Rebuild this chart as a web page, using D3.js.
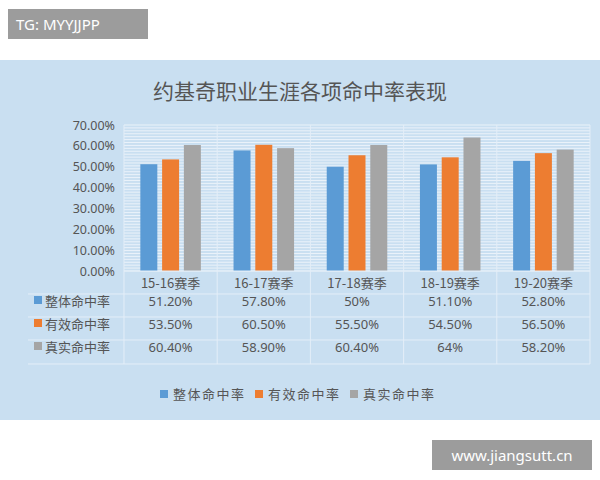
<!DOCTYPE html>
<html><head><meta charset="utf-8">
<script src="https://cdn.jsdelivr.net/npm/d3@7"></script>
<style>body{margin:0;background:#fff}svg{display:block;font-family:"Noto Sans CJK SC",sans-serif}</style>
</head><body><svg width="600" height="480"></svg>
<script>
const seasons = ["15-16赛季", "16-17赛季", "17-18赛季", "18-19赛季", "19-20赛季"];
const seriesNames = ["整体命中率", "有效命中率", "真实命中率"];
const overall = [51.2, 57.8, 50, 51.1, 52.8];
const effective = [53.5, 60.5, 55.5, 54.5, 56.5];
const trueShoot = [60.4, 58.9, 60.4, 64, 58.2];
const labels = [
  ["51.20%", "57.80%", "50%", "51.10%", "52.80%"],
  ["53.50%", "60.50%", "55.50%", "54.50%", "56.50%"],
  ["60.40%", "58.90%", "60.40%", "64%", "58.20%"]
];
const colors = ["#5b9bd5", "#ed7d31", "#a5a5a5"];
const series = [overall, effective, trueShoot];

const svg = d3.select("svg");
// chart background
svg.append("rect").attr("x", 0).attr("y", 60).attr("width", 600).attr("height", 360).attr("fill", "#c9dff1");

svg.append("text").attr("x", 300).attr("y", 99).attr("text-anchor", "middle")
  .attr("font-size", 21).attr("fill", "#555").text("约基奇职业生涯各项命中率表现");

const x = d3.scaleBand().domain(seasons).range([124, 590]);
const y = d3.scaleLinear().domain([0, 70]).range([271, 125]);
const xs = d3.scaleBand().domain(d3.range(3)).range([0, x.bandwidth()]).paddingInner(0.22).paddingOuter(0.75);

// dense gridlines
svg.append("g").selectAll("line").data(d3.range(0, 71, 1.4)).join("line")
  .attr("x1", 124).attr("x2", 590).attr("y1", d => y(d)).attr("y2", d => y(d))
  .attr("stroke", "#f4f8fc").attr("stroke-width", 0.8);

const yAxis = svg.append("g").attr("transform", "translate(118,0)")
  .call(d3.axisLeft(y).tickValues(d3.range(0, 71, 10)).tickFormat(d => d.toFixed(2) + "%").tickSize(0));
yAxis.select(".domain").remove();
yAxis.selectAll("text").attr("font-size", 12.5).attr("fill", "#555").attr("font-family", "Noto Sans");

series.forEach((vals, si) => {
  svg.append("g").selectAll("rect").data(vals).join("rect")
    .attr("x", (d, i) => x(seasons[i]) + xs(si)).attr("width", xs.bandwidth())
    .attr("y", d => y(d)).attr("height", d => y(0) - y(d)).attr("fill", colors[si]);
});

// table
const rowY = [306, 329, 352];
const grid = svg.append("g").attr("stroke", "#e4eef8").attr("stroke-width", 1);
seasons.forEach((s, i) => grid.append("line").attr("x1", x(s)).attr("x2", x(s)).attr("y1", 125).attr("y2", 364));
grid.append("line").attr("x1", 590).attr("x2", 590).attr("y1", 125).attr("y2", 364);
[271, 294, 317, 340, 364].forEach(v => grid.append("line").attr("x1", v === 271 ? 124 : 28).attr("x2", 590).attr("y1", v).attr("y2", v));

svg.append("g").selectAll("text").data(seasons).join("text")
  .attr("x", d => x(d) + x.bandwidth() / 2).attr("y", 288).attr("text-anchor", "middle")
  .attr("font-size", 13).attr("fill", "#555").text(d => d);

seriesNames.forEach((n, si) => {
  svg.append("rect").attr("x", 34).attr("y", rowY[si] - 10).attr("width", 8).attr("height", 8).attr("fill", colors[si]);
  svg.append("text").attr("x", 45).attr("y", rowY[si]).attr("font-size", 13).attr("fill", "#555").text(n);
  svg.append("g").selectAll("text").data(labels[si]).join("text")
    .attr("x", (d, i) => x(seasons[i]) + x.bandwidth() / 2).attr("y", rowY[si]).attr("text-anchor", "middle")
    .attr("font-size", 13).attr("fill", "#555").attr("font-family", "Noto Sans").text(d => d);
});

// legend
const lx = [160, 255, 350];
seriesNames.forEach((n, si) => {
  svg.append("rect").attr("x", lx[si]).attr("y", 390).attr("width", 8).attr("height", 8).attr("fill", colors[si]);
  svg.append("text").attr("x", lx[si] + 13).attr("y", 399).attr("font-size", 13).attr("fill", "#555")
    .attr("letter-spacing", 1.5).text(n);
});

// watermarks
svg.append("rect").attr("x", 8).attr("y", 9).attr("width", 140).attr("height", 30).attr("fill", "#9c9c9c");
svg.append("text").attr("x", 16).attr("y", 30).attr("font-size", 15).attr("fill", "#fff").attr("font-family", "Noto Sans").text("TG: MYYJJPP");
svg.append("rect").attr("x", 432).attr("y", 440).attr("width", 160).attr("height", 30).attr("fill", "#9c9c9c");
svg.append("text").attr("x", 512).attr("y", 461).attr("text-anchor", "middle").attr("font-size", 15).attr("fill", "#fff").attr("font-family", "Noto Sans").text("www.jiangsutt.cn");
</script></body></html>
